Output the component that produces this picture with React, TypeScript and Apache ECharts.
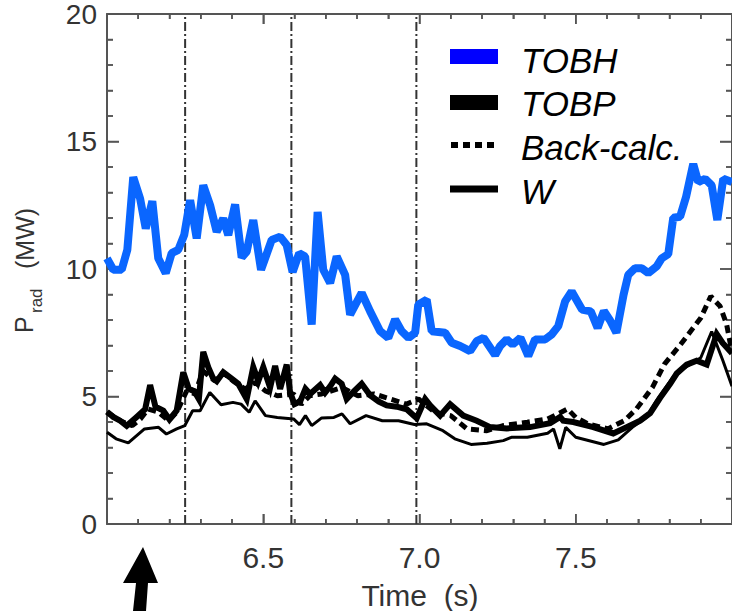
import React, { useEffect, useRef } from "react";
import * as echarts from "echarts";

// Radiated power traces, [time (s), P_rad (MW)]
const tobh: [number, number][] = [
  [6.0, 10.42], [6.02, 9.97], [6.047, 9.97], [6.065, 10.75], [6.084, 13.6], [6.106, 12.76],
  [6.124, 11.59], [6.145, 12.66], [6.164, 10.42], [6.188, 9.84], [6.207, 10.62], [6.228, 10.75],
  [6.247, 11.33], [6.266, 12.7], [6.287, 11.2], [6.308, 13.28], [6.33, 12.5], [6.351, 11.46],
  [6.372, 11.98], [6.388, 11.33], [6.41, 12.53], [6.431, 10.45], [6.447, 10.68], [6.468, 11.92],
  [6.493, 9.97], [6.527, 11.14], [6.554, 11.27], [6.575, 10.94], [6.594, 9.88], [6.615, 10.62],
  [6.634, 10.49], [6.655, 7.82], [6.674, 12.24], [6.692, 9.97], [6.714, 9.45], [6.735, 10.49],
  [6.762, 9.77], [6.778, 8.21], [6.815, 9.06], [6.842, 8.34], [6.874, 7.56], [6.9, 7.3],
  [6.922, 8.02], [6.943, 7.56], [6.965, 7.3], [6.986, 7.5], [6.996, 8.6], [7.023, 8.8],
  [7.039, 7.56], [7.082, 7.5], [7.103, 7.11], [7.13, 6.98], [7.162, 6.78], [7.183, 7.17],
  [7.205, 7.3], [7.242, 6.63], [7.258, 6.98], [7.279, 7.24], [7.298, 7.04], [7.323, 7.3],
  [7.348, 6.59], [7.37, 7.24], [7.402, 7.24], [7.423, 7.43], [7.444, 7.76], [7.466, 8.73],
  [7.487, 9.12], [7.52, 8.41], [7.548, 8.34], [7.57, 7.69], [7.59, 8.35], [7.61, 7.98],
  [7.63, 7.5], [7.653, 8.99], [7.668, 9.77], [7.69, 10.03], [7.711, 10.03], [7.732, 9.84],
  [7.759, 10.1], [7.775, 10.42], [7.796, 10.58], [7.812, 12.01], [7.834, 12.05], [7.853, 12.83],
  [7.876, 14.12], [7.892, 13.41], [7.914, 13.54], [7.935, 13.28], [7.953, 11.92], [7.972, 13.54],
  [8.0, 13.41],
];

const tobp: [number, number][] = [
  [6.0, 4.4], [6.02, 4.2], [6.042, 4.05], [6.063, 3.85], [6.095, 4.2], [6.122, 4.5],
  [6.138, 5.45], [6.155, 4.6], [6.18, 4.45], [6.2, 4.1], [6.223, 4.45], [6.244, 5.95],
  [6.262, 5.3], [6.28, 5.2], [6.294, 4.9], [6.308, 6.75], [6.324, 6.15], [6.34, 5.7],
  [6.351, 5.6], [6.372, 5.95], [6.399, 5.7], [6.42, 5.5], [6.447, 4.9], [6.468, 6.15],
  [6.484, 5.6], [6.5, 6.15], [6.522, 5.35], [6.538, 6.2], [6.554, 5.3], [6.575, 6.25],
  [6.586, 5.15], [6.6, 4.7], [6.618, 4.8], [6.635, 5.3], [6.65, 5.1], [6.682, 5.45],
  [6.698, 5.15], [6.714, 5.4], [6.73, 5.7], [6.751, 5.5], [6.767, 4.9], [6.79, 5.2],
  [6.815, 5.5], [6.842, 5.05], [6.87, 4.8], [6.895, 4.65], [6.927, 4.6], [6.959, 4.5],
  [6.991, 4.15], [7.018, 4.9], [7.034, 4.65], [7.066, 4.25], [7.098, 4.7], [7.14, 4.25],
  [7.183, 4.05], [7.226, 3.8], [7.279, 3.75], [7.354, 3.8], [7.418, 3.95], [7.45, 4.2],
  [7.46, 4.05], [7.492, 4.0], [7.556, 3.8], [7.62, 3.55], [7.663, 3.8], [7.706, 4.05],
  [7.738, 4.35], [7.77, 4.95], [7.802, 5.5], [7.823, 5.9], [7.855, 6.25], [7.887, 6.4],
  [7.919, 6.25], [7.951, 7.45], [7.97, 7.1], [8.0, 6.7],
];

const backCalc: [number, number][] = [
  [6.0, 4.38], [6.042, 4.05], [6.081, 3.86], [6.107, 4.12], [6.132, 4.51], [6.165, 4.38],
  [6.197, 4.05], [6.223, 4.38], [6.255, 5.22], [6.281, 5.1], [6.307, 6.0], [6.345, 5.61],
  [6.371, 5.94], [6.403, 5.61], [6.442, 5.29], [6.474, 5.55], [6.507, 5.22], [6.545, 5.03],
  [6.597, 5.1], [6.622, 4.7], [6.649, 5.03], [6.687, 5.1], [6.752, 5.35], [6.803, 5.03],
  [6.855, 5.1], [6.907, 4.9], [6.958, 4.7], [6.997, 4.9], [7.049, 4.38], [7.1, 4.25],
  [7.152, 3.73], [7.216, 3.66], [7.268, 3.86], [7.345, 3.99], [7.41, 4.12], [7.474, 4.51],
  [7.5, 4.18], [7.539, 3.93], [7.603, 3.73], [7.655, 4.05], [7.694, 4.51], [7.745, 5.35],
  [7.784, 6.27], [7.836, 7.05], [7.9, 8.08], [7.932, 8.93], [7.962, 8.54], [7.983, 7.82],
  [8.0, 6.72],
];

const tungsten: [number, number][] = [
  [6.0, 3.6], [6.029, 3.34], [6.068, 3.18], [6.12, 3.73], [6.165, 3.79], [6.19, 3.53],
  [6.223, 3.73], [6.249, 3.86], [6.274, 4.44], [6.298, 4.44], [6.329, 5.16], [6.365, 4.68],
  [6.403, 4.77], [6.429, 4.7], [6.455, 4.38], [6.474, 4.83], [6.507, 4.25], [6.545, 4.18],
  [6.597, 4.12], [6.616, 3.9], [6.635, 4.25], [6.655, 3.86], [6.687, 4.16], [6.726, 4.18],
  [6.752, 4.32], [6.778, 3.93], [6.829, 4.25], [6.881, 4.05], [6.933, 4.05], [6.984, 3.9],
  [7.023, 3.93], [7.075, 3.66], [7.113, 3.34], [7.165, 3.12], [7.216, 3.17], [7.268, 3.27],
  [7.294, 3.4], [7.345, 3.4], [7.41, 3.56], [7.429, 3.73], [7.449, 2.95], [7.468, 3.79],
  [7.5, 3.4], [7.59, 3.12], [7.636, 3.3], [7.681, 3.79], [7.726, 4.18], [7.758, 4.83],
  [7.81, 5.74], [7.849, 6.13], [7.9, 6.52], [7.935, 7.55], [7.971, 6.4], [8.0, 5.4],
];

// Times marked by vertical dash-dot lines
const markerTimes = [6.25, 6.59, 6.99];

// Tick positions on the frame (time axis and power axis)
const timeMajorTicks = [6.5, 7.0, 7.5];
const timeMinorTicks = [
  6.1, 6.2, 6.3, 6.4, 6.6, 6.7, 6.8, 6.9, 7.1, 7.2, 7.3, 7.4, 7.6, 7.7, 7.8, 7.9,
];
const powerMajorTicks = [5, 10, 15];
const powerMinorTicks = [1, 2, 3, 4, 6, 7, 8, 9, 11, 12, 13, 14, 16, 17, 18, 19];

const legendNames = ["TOBH", "TOBP", "Back-calc.", "W"];
const legendY = [60, 103, 147, 191];

const T_MIN = 6;
const T_MAX = 8;
const P_MIN = 0;
const P_MAX = 20;

const FONT = "'Liberation Sans', Arial, sans-serif";
const AXIS_COLOR = "#555";
const TEXT_COLOR = "#333";

function timeAxis(extra: any) {
  return {
    type: "value",
    min: T_MIN,
    max: T_MAX,
    interval: 0.5,
    axisLine: { show: true, onZero: false, lineStyle: { color: AXIS_COLOR, width: 2 } },
    axisTick: { show: true, inside: true, length: 10, lineStyle: { color: AXIS_COLOR, width: 1.5 } },
    minorTick: { show: true, splitNumber: 5, length: 5, lineStyle: { color: AXIS_COLOR, width: 1.5 } },
    splitLine: { show: false },
    ...extra,
  };
}

function powerAxis(extra: any) {
  return {
    type: "value",
    min: P_MIN,
    max: P_MAX,
    interval: 5,
    axisLine: { show: true, onZero: false, lineStyle: { color: AXIS_COLOR, width: 2 } },
    axisTick: { show: true, inside: true, length: 12, lineStyle: { color: AXIS_COLOR, width: 1.5 } },
    minorTick: { show: true, splitNumber: 5, length: 6, lineStyle: { color: AXIS_COLOR, width: 1.5 } },
    splitLine: { show: false },
    ...extra,
  };
}

// Tick records: [axis (0 = time, 1 = power), value, major flag]
const tickData: number[][] = [
  ...timeMajorTicks.map((t) => [0, t, 1]),
  ...timeMinorTicks.map((t) => [0, t, 0]),
  ...powerMajorTicks.map((p) => [1, p, 1]),
  ...powerMinorTicks.map((p) => [1, p, 0]),
];

const tickStroke = { stroke: AXIS_COLOR, lineWidth: 1.5 };

// Inward ticks on all four sides of the frame, placed through the axis scales
function renderTick(_params: any, api: any) {
  const axis = api.value(0);
  const v = api.value(1);
  const major = api.value(2) === 1;
  if (axis === 0) {
    const len = major ? 10 : 5;
    const b = api.coord([v, P_MIN]);
    const t = api.coord([v, P_MAX]);
    return {
      type: "group",
      children: [
        { type: "line", shape: { x1: b[0], y1: b[1], x2: b[0], y2: b[1] - len }, style: tickStroke },
        { type: "line", shape: { x1: t[0], y1: t[1], x2: t[0], y2: t[1] + len }, style: tickStroke },
      ],
    };
  }
  const len = major ? 12 : 6;
  const l = api.coord([T_MIN, v]);
  const r = api.coord([T_MAX, v]);
  return {
    type: "group",
    children: [
      { type: "line", shape: { x1: l[0], y1: l[1], x2: l[0] + len, y2: l[1] }, style: tickStroke },
      { type: "line", shape: { x1: r[0], y1: r[1], x2: r[0] - len, y2: r[1] }, style: tickStroke },
    ],
  };
}

// Vertical dash-dot marker across the full power range
function renderMarker(_params: any, api: any) {
  const t = api.value(0);
  const b = api.coord([t, P_MIN]);
  const top = api.coord([t, P_MAX]);
  return {
    type: "line",
    shape: { x1: b[0], y1: b[1], x2: top[0], y2: top[1] },
    style: { stroke: "#333", lineWidth: 2, lineDash: [9, 3, 2, 3] },
  };
}

export default function App() {
  const ref = useRef<HTMLDivElement>(null);

  useEffect(() => {
    if (!ref.current) return;
    const chart = echarts.init(ref.current, undefined, { renderer: "svg" });

    chart.setOption({
      animation: false,
      grid: { left: 107, top: 11, right: 0, bottom: 87 },
      xAxis: [
        timeAxis({
          position: "bottom",
          axisLabel: {
            fontFamily: FONT,
            color: TEXT_COLOR,
            fontSize: 30,
            margin: 18,
            showMinLabel: false,
            showMaxLabel: false,
            formatter: (v: number) => v.toFixed(1),
          },
        }),
        timeAxis({ position: "top", axisLabel: { show: false } }),
      ],
      yAxis: [
        powerAxis({
          position: "left",
          axisLabel: { fontFamily: FONT, color: TEXT_COLOR, fontSize: 28, margin: 10 },
        }),
        powerAxis({ position: "right", axisLabel: { show: false } }),
      ],
      series: [
        {
          name: "ticks",
          type: "custom",
          renderItem: renderTick,
          data: tickData,
          encode: { x: 1, y: 2 },
          clip: false,
          silent: true,
          z: 1,
        },
        {
          name: "markers",
          type: "custom",
          renderItem: renderMarker,
          data: markerTimes.map((t) => [t, P_MIN]),
          clip: false,
          silent: true,
          z: 1,
        },
        {
          name: "TOBP",
          type: "line",
          data: tobp,
          showSymbol: false,
          lineStyle: { color: "#000", width: 6, join: "miter" },
          z: 2,
        },
        {
          name: "Back-calc.",
          type: "line",
          data: backCalc,
          showSymbol: false,
          lineStyle: { color: "#000", width: 5, type: [8, 5] },
          z: 3,
        },
        {
          name: "W",
          type: "line",
          data: tungsten,
          showSymbol: false,
          lineStyle: { color: "#000", width: 3 },
          z: 4,
        },
        {
          name: "TOBH",
          type: "line",
          data: tobh,
          showSymbol: false,
          lineStyle: { color: "#0a66ff", width: 8 },
          z: 5,
        },
      ],
      graphic: [
        // legend swatches
        { type: "rect", shape: { x: 450, y: 49, width: 48, height: 15 }, style: { fill: "#0000ff" } },
        { type: "rect", shape: { x: 450, y: 95, width: 48, height: 15 }, style: { fill: "#000" } },
        {
          type: "line",
          shape: { x1: 451, y1: 145, x2: 497, y2: 145 },
          style: { stroke: "#000", lineWidth: 6, lineDash: [7, 5] },
        },
        {
          type: "line",
          shape: { x1: 450, y1: 189, x2: 498, y2: 189 },
          style: { stroke: "#000", lineWidth: 7 },
        },
        // legend texts
        ...legendNames.map((name, i) => ({
          type: "text",
          x: 521,
          y: legendY[i],
          style: {
            text: name,
            fontFamily: FONT,
            fontStyle: "italic",
            fontSize: 35,
            fill: "#000",
            align: "left",
            verticalAlign: "middle",
          },
        })),
        // x-axis title
        {
          type: "text",
          x: 420,
          y: 595,
          style: {
            text: "Time  (s)",
            fontFamily: FONT,
            fontSize: 30,
            fill: TEXT_COLOR,
            align: "center",
            verticalAlign: "middle",
          },
        },
        // y-axis title: P_rad (MW)
        {
          type: "text",
          x: 24,
          y: 333,
          rotation: Math.PI / 2,
          style: { text: "P", fontFamily: FONT, fontSize: 25, fill: TEXT_COLOR, align: "left", verticalAlign: "middle" },
        },
        {
          type: "text",
          x: 36,
          y: 313,
          rotation: Math.PI / 2,
          style: { text: "rad", fontFamily: FONT, fontSize: 17, fill: TEXT_COLOR, align: "left", verticalAlign: "middle" },
        },
        {
          type: "text",
          x: 25,
          y: 269,
          rotation: Math.PI / 2,
          style: { text: "(MW)", fontFamily: FONT, fontSize: 25, fill: TEXT_COLOR, align: "left", verticalAlign: "middle" },
        },
        // arrow pointing at the time axis
        {
          type: "polygon",
          shape: {
            points: [
              [143, 547],
              [158, 583],
              [148, 583],
              [146, 611],
              [133, 611],
              [136, 583],
              [123, 583],
            ],
          },
          style: { fill: "#000" },
        },
      ],
    });

    return () => chart.dispose();
  }, []);

  return (
    <div
      ref={ref}
      style={{ position: "fixed", left: 0, top: 0, width: 732, height: 611, background: "#fff" }}
    />
  );
}
